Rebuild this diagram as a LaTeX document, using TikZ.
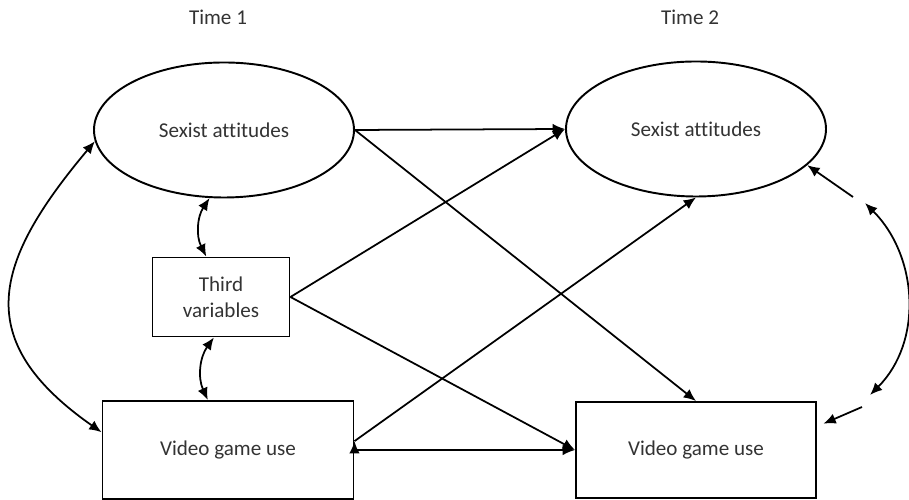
\documentclass[tikz,border=0pt]{standalone}
\usepackage{fontspec}
\setmainfont[Ligatures=NoCommon]{Carlito}
\usepackage{tikz}
\usetikzlibrary{positioning}
\usetikzlibrary{arrows.meta}
\usetikzlibrary{shapes,calc}
\tikzset{latent node/.style={ellipse,draw,line width=1.1pt,minimum width=5.2cm,minimum height=2.7cm,inner sep=0pt,text=black!80},
         obs node/.style={rectangle,draw,line width=1.1pt,inner sep=0pt,text=black!80,align=center},
         time label/.style={text=black!80}}

\begin{document}
\begin{tikzpicture}[->, >={Latex[length=7pt,width=6pt]}, line width=1pt, font=\fontsize{12}{15}\selectfont]
	\useasboundingbox (0,0) rectangle (18.18,10);
	\node[time label] (t1) at (4.36,9.66) {Time 1};
	\node[time label] (t2) at (13.8,9.66) {Time 2};

	\node[latent node] (sa1) at (4.48,7.4) {Sexist attitudes};
	\node[latent node] (sa2) at (13.92,7.42) {Sexist attitudes};
	\node[obs node, minimum width=2.74cm, minimum height=1.58cm] (tv) at (4.42,4.06) {Third\\variables};
	\node[obs node, minimum width=5.02cm, minimum height=1.96cm] (vg1) at (4.56,1.0) {Video game use};
	\node[obs node, minimum width=4.8cm, minimum height=1.92cm] (vg2) at (13.92,1.0) {Video game use};

	\coordinate (r1) at (17.3,5.94);
	\coordinate (r2) at (17.4,2.1);
	\coordinate (r3) at (17.06,6.06);
	\coordinate (r4) at (17.24,1.86);

	\path[draw]
	(sa1.east) edge (sa2.west)
	(sa1.east) edge (vg2.north)
	(tv.east) edge (sa2.west)
	(tv.east) edge (vg2.west)
	(vg1.east) edge (vg2.west)
	(vg1.4) edge (sa2.south);

	% correlations at time 1
	\draw[<->] (sa1.258) to[bend right=30] (tv.110);
	\draw[<->] (tv.260) to[bend right=30] (vg1.112);
	\draw[<->] (sa1.185) to[out=230, in=145, looseness=1.4] (vg1.172);

	% residual correlation at time 2
	\draw[<->] (r1) to[out=-45, in=45] (r2);
	\draw (r3) -- (sa2.342);
	\draw[shorten >=4pt] (r4) -- (vg2.11);
\end{tikzpicture}
\end{document}
